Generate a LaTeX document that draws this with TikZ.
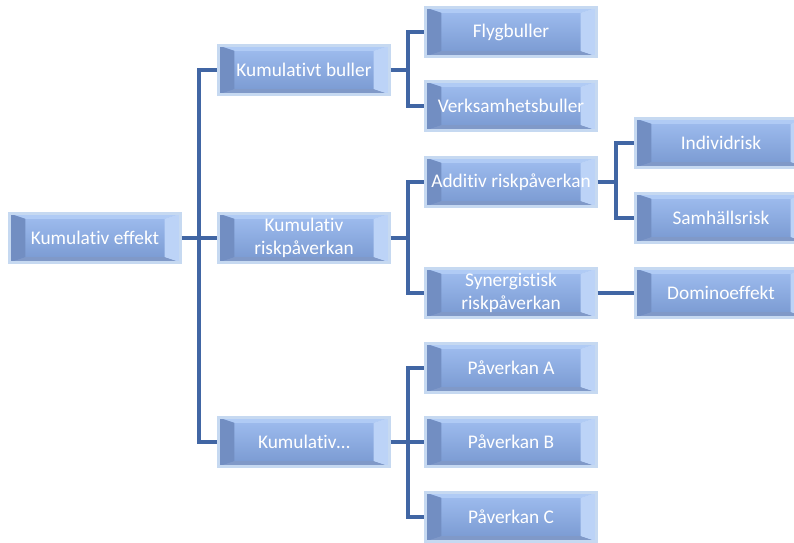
\documentclass[tikz,border=0pt]{standalone}
\usepackage{fontspec}
\setmainfont{Carlito}[Ligatures={NoCommon}]
\usetikzlibrary{positioning}

\definecolor{linkblue}{RGB}{65,102,164}
\definecolor{boxtop}{RGB}{160,190,240}
\definecolor{boxbot}{RGB}{120,152,208}
\definecolor{boxedge}{RGB}{198,217,241}
\definecolor{bevlight}{RGB}{176,203,245}
\definecolor{bevdark}{RGB}{114,142,194}

\tikzset{
  bevel/.style={path picture={
    \coordinate (pnw) at (path picture bounding box.north west);
    \coordinate (pne) at (path picture bounding box.north east);
    \coordinate (psw) at (path picture bounding box.south west);
    \coordinate (pse) at (path picture bounding box.south east);
    % top and right faces
    \fill[bevlight] (pnw) -- (pne) -- ([shift={(-9pt,-3pt)}]pne) -- ([shift={(9pt,-3pt)}]pnw) -- cycle;
    \fill[bevlight!85!white] (pne) -- (pse) -- ([shift={(-9pt,3pt)}]pse) -- ([shift={(-9pt,-3pt)}]pne) -- cycle;
    % left and bottom faces
    \fill[bevdark] (pnw) -- (psw) -- ([shift={(9pt,3pt)}]psw) -- ([shift={(9pt,-3pt)}]pnw) -- cycle;
    \fill[bevdark!90!white] (psw) -- (pse) -- ([shift={(-9pt,3pt)}]pse) -- ([shift={(9pt,3pt)}]psw) -- cycle;
  }}
}

\begin{document}
\begin{tikzpicture}[x=0.02cm,y=-0.02cm,
  box/.style={rectangle,top color=boxtop,bottom color=boxbot,draw=boxedge,line width=1.2pt,
    bevel,minimum width=3.42cm,minimum height=0.98cm,inner sep=1pt,align=center,
    text=white,font=\fontsize{11}{13}\selectfont},
  link/.style={draw=linkblue,line width=2.3pt}]
\useasboundingbox (0,0) rectangle (794,542);

% first and second level
\node[box] (effekt)  at (95,238)  {Kumulativ effekt};
\node[box] (buller)  at (304,70)  {Kumulativt buller};
\node[box] (risk)    at (304,238) {Kumulativ\\riskpåverkan};
\node[box] (ovrigt)  at (304,442) {Kumulativ…};

% third level
\node[box] (flyg)    at (511,32)  {Flygbuller};
\node[box] (verks)   at (511,106) {Verksamhetsbuller};
\node[box] (additiv) at (511,182) {Additiv riskpåverkan};
\node[box] (synerg)  at (511,293) {Synergistisk\\riskpåverkan};
\node[box] (pavA)    at (511,368) {Påverkan A};
\node[box] (pavB)    at (511,442) {Påverkan B};
\node[box] (pavC)    at (511,517) {Påverkan C};

% fourth level
\node[box] (individ) at (721,143) {Individrisk};
\node[box] (samhall) at (721,218) {Samhällsrisk};
\node[box] (domino)  at (721,293) {Dominoeffekt};

% junctions
\coordinate (j1) at (199,238);
\coordinate (j2) at (408,70);
\coordinate (j3) at (408,238);
\coordinate (j4) at (408,442);
\coordinate (j5) at (616,182);

\draw[link] (effekt.east) -- (j1);
\draw[link] (j1) |- (buller.west);
\draw[link] (j1) |- (risk.west);
\draw[link] (j1) |- (ovrigt.west);

\draw[link] (buller.east) -- (j2);
\draw[link] (j2) |- (flyg.west);
\draw[link] (j2) |- (verks.west);

\draw[link] (risk.east) -- (j3);
\draw[link] (j3) |- (additiv.west);
\draw[link] (j3) |- (synerg.west);

\draw[link] (ovrigt.east) -- (j4);
\draw[link] (j4) |- (pavA.west);
\draw[link] (j4) |- (pavB.west);
\draw[link] (j4) |- (pavC.west);

\draw[link] (additiv.east) -- (j5);
\draw[link] (j5) |- (individ.west);
\draw[link] (j5) |- (samhall.west);

\draw[link] (synerg) -- (domino);
\end{tikzpicture}
\end{document}
